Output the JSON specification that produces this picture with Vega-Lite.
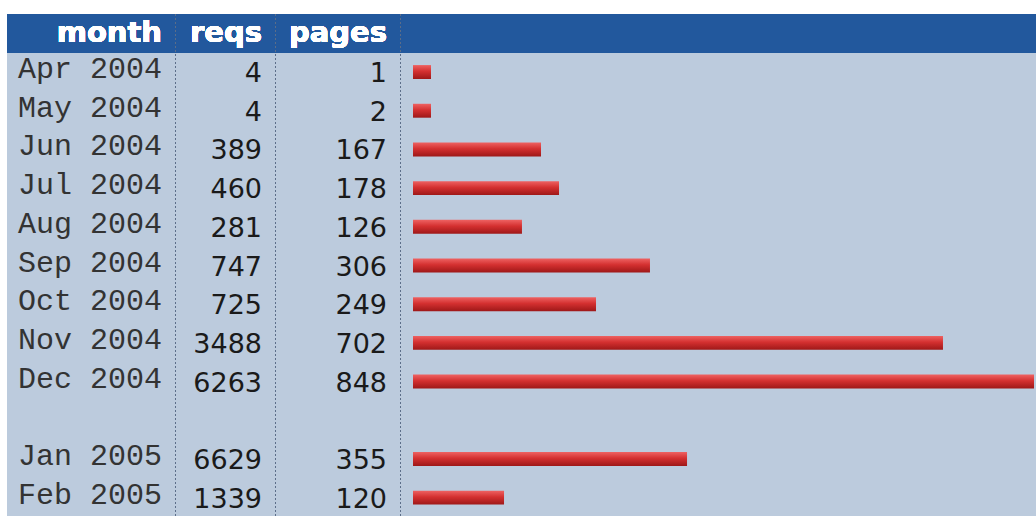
{
  "$schema": "https://vega.github.io/schema/vega-lite/v6.json",
  "background": "#ffffff",
  "padding": {"left": 7, "top": 13, "right": 0, "bottom": 0},
  "spacing": 0,
  "bounds": "flush",
  "data": {"values": [
    {"month": "Apr 2004", "reqs": 4, "pages": 1, "bar": 24.6},
    {"month": "May 2004", "reqs": 4, "pages": 2, "bar": 24.6},
    {"month": "Jun 2004", "reqs": 389, "pages": 167, "bar": 174.8},
    {"month": "Jul 2004", "reqs": 460, "pages": 178, "bar": 199.4},
    {"month": "Aug 2004", "reqs": 281, "pages": 126, "bar": 148.8},
    {"month": "Sep 2004", "reqs": 747, "pages": 306, "bar": 323.6},
    {"month": "Oct 2004", "reqs": 725, "pages": 249, "bar": 249.9},
    {"month": "Nov 2004", "reqs": 3488, "pages": 702, "bar": 723.7},
    {"month": "Dec 2004", "reqs": 6263, "pages": 848, "bar": 848},
    {"month": "Jan 2005", "reqs": 6629, "pages": 355, "bar": 374.2},
    {"month": "Feb 2005", "reqs": 1339, "pages": 120, "bar": 124.3}
  ]},
  "hconcat": [
    {
      "width": 169, "height": 503,
      "layer": [
        {"mark": {"type": "rect", "fill": "#22589d"},
         "encoding": {"y": {"datum": "H", "type": "ordinal", "scale": {"domain": ["H", "Apr 2004", "May 2004", "Jun 2004", "Jul 2004", "Aug 2004", "Sep 2004", "Oct 2004", "Nov 2004", "Dec 2004", " ", "Jan 2005", "Feb 2005"]}, "axis": null}}},
        {"mark": {"type": "text", "align": "right", "baseline": "middle", "dx": -14, "font": "DejaVu Sans", "fontWeight": "bold", "fontSize": 29, "color": "#ffffff"},
         "encoding": {"y": {"datum": "H", "type": "ordinal", "axis": null}, "x": {"datum": 1, "scale": {"domain": [0, 1]}, "axis": null}, "text": {"value": "month"}}},
        {"mark": {"type": "text", "align": "left", "baseline": "middle", "dx": 11, "dy": -3, "font": "Liberation Mono", "fontSize": 30, "color": "#333333"},
         "encoding": {"y": {"field": "month", "type": "ordinal", "axis": null}, "x": {"datum": 0, "scale": {"domain": [0, 1]}, "axis": null}, "text": {"field": "month"}}},
        {"mark": {"type": "rule", "color": "#5d6f88", "strokeDash": [2, 2], "strokeWidth": 1},
         "encoding": {"x": {"datum": 1, "scale": {"domain": [0, 1]}, "axis": null}}}
      ]
    },
    {
      "width": 100, "height": 503,
      "layer": [
        {"mark": {"type": "rect", "fill": "#22589d"},
         "encoding": {"y": {"datum": "H", "type": "ordinal", "scale": {"domain": ["H", "Apr 2004", "May 2004", "Jun 2004", "Jul 2004", "Aug 2004", "Sep 2004", "Oct 2004", "Nov 2004", "Dec 2004", " ", "Jan 2005", "Feb 2005"]}, "axis": null}}},
        {"mark": {"type": "text", "align": "right", "baseline": "middle", "dx": -14, "font": "DejaVu Sans", "fontWeight": "bold", "fontSize": 29, "color": "#ffffff"},
         "encoding": {"y": {"datum": "H", "type": "ordinal", "axis": null}, "x": {"datum": 1, "scale": {"domain": [0, 1]}, "axis": null}, "text": {"value": "reqs"}}},
        {"mark": {"type": "text", "align": "right", "baseline": "middle", "dx": -14, "dy": 2, "font": "DejaVu Sans", "fontSize": 27, "color": "#1a1a1a"},
         "encoding": {"y": {"field": "month", "type": "ordinal", "axis": null}, "x": {"datum": 1, "scale": {"domain": [0, 1]}, "axis": null}, "text": {"field": "reqs"}}},
        {"mark": {"type": "rule", "color": "#5d6f88", "strokeDash": [2, 2], "strokeWidth": 1},
         "encoding": {"x": {"datum": 1, "scale": {"domain": [0, 1]}, "axis": null}}}
      ]
    },
    {
      "width": 125, "height": 503,
      "layer": [
        {"mark": {"type": "rect", "fill": "#22589d"},
         "encoding": {"y": {"datum": "H", "type": "ordinal", "scale": {"domain": ["H", "Apr 2004", "May 2004", "Jun 2004", "Jul 2004", "Aug 2004", "Sep 2004", "Oct 2004", "Nov 2004", "Dec 2004", " ", "Jan 2005", "Feb 2005"]}, "axis": null}}},
        {"mark": {"type": "text", "align": "right", "baseline": "middle", "dx": -14, "font": "DejaVu Sans", "fontWeight": "bold", "fontSize": 29, "color": "#ffffff"},
         "encoding": {"y": {"datum": "H", "type": "ordinal", "axis": null}, "x": {"datum": 1, "scale": {"domain": [0, 1]}, "axis": null}, "text": {"value": "pages"}}},
        {"mark": {"type": "text", "align": "right", "baseline": "middle", "dx": -14, "dy": 2, "font": "DejaVu Sans", "fontSize": 27, "color": "#1a1a1a"},
         "encoding": {"y": {"field": "month", "type": "ordinal", "axis": null}, "x": {"datum": 1, "scale": {"domain": [0, 1]}, "axis": null}, "text": {"field": "pages"}}},
        {"mark": {"type": "rule", "color": "#5d6f88", "strokeDash": [2, 2], "strokeWidth": 1},
         "encoding": {"x": {"datum": 1, "scale": {"domain": [0, 1]}, "axis": null}}}
      ]
    },
    {
      "width": 635, "height": 503,
      "layer": [
        {"mark": {"type": "rect", "fill": "#22589d"},
         "encoding": {"y": {"datum": "H", "type": "ordinal", "scale": {"domain": ["H", "Apr 2004", "May 2004", "Jun 2004", "Jul 2004", "Aug 2004", "Sep 2004", "Oct 2004", "Nov 2004", "Dec 2004", " ", "Jan 2005", "Feb 2005"]}, "axis": null}}},
        {"mark": {"type": "bar", "height": {"band": 0.36},
                  "fill": {"gradient": "linear", "x1": 0, "y1": 0, "x2": 0, "y2": 1,
                           "stops": [{"offset": 0, "color": "#ee6262"}, {"offset": 0.45, "color": "#d43030"}, {"offset": 1, "color": "#9e1818"}]}},
         "encoding": {"y": {"field": "month", "type": "ordinal", "axis": null},
                      "x": {"field": "bar", "type": "quantitative", "scale": {"domain": [0, 848], "range": [12, 633], "nice": false, "zero": true}, "axis": null}}}
      ]
    }
  ],
  "config": {
    "view": {"stroke": null, "fill": "#bccbdd"},
    "scale": {"bandPaddingInner": 0, "bandPaddingOuter": 0}
  }
}
